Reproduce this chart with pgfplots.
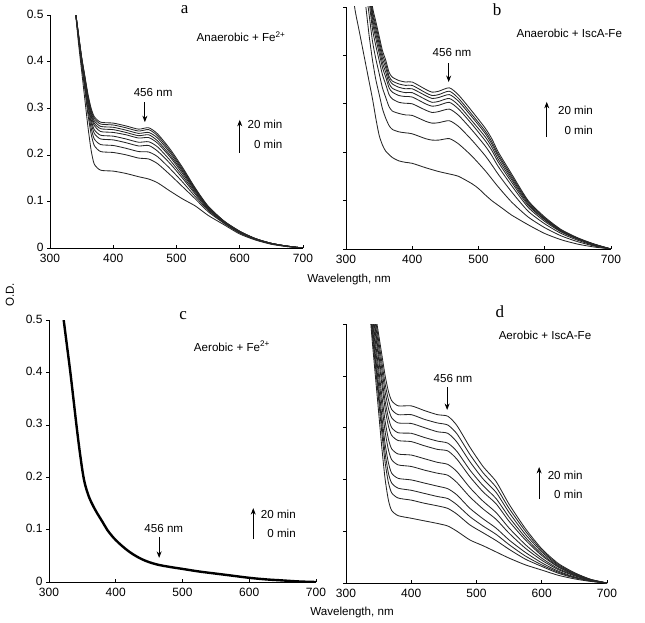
\documentclass[border=0pt]{standalone}
\usepackage{pgfplots}
\pgfplotsset{compat=1.18}
\usepackage{pgfplotstable}
\usepackage{fontspec}
\setmainfont{Liberation Sans}
\newfontfamily\serifl{Liberation Serif}
\usetikzlibrary{arrows.meta}

\newcommand\annot{\fontsize{11.6}{13}\selectfont}
\newcommand\plab{\serifl\fontsize{17}{17}\selectfont}

% Panel a: c1 = 0 min (bottom) ... c10 = 20 min (top)
\pgfplotstableread{
wl c1 c2 c3 c4 c5 c6 c7 c8 c9 c10
340 .51 .51 .51 .51 .51 .51 .51 .51 .51 .51
345 .44 .448 .451 .453 .455 .456 .457 .458 .459 .46
350 .38 .392 .396 .400 .402 .404 .406 .407 .409 .41
355 .32 .340 .347 .353 .357 .361 .363 .366 .368 .37
360 .26 .287 .297 .306 .311 .317 .320 .324 .327 .33
365 .21 .245 .258 .269 .276 .283 .287 .292 .296 .30
370 .18 .220 .234 .246 .254 .263 .268 .273 .278 .282
380 .167 .207 .222 .234 .242 .250 .256 .261 .266 .27
400 .165 .205 .220 .232 .240 .248 .254 .259 .264 .268
420 .160 .200 .214 .226 .234 .243 .248 .253 .258 .262
440 .153 .193 .207 .219 .227 .236 .241 .246 .251 .255
456 .148 .191 .206 .220 .228 .237 .243 .248 .254 .258
470 .140 .181 .196 .208 .217 .225 .230 .236 .241 .245
490 .122 .157 .170 .181 .188 .195 .199 .204 .208 .212
510 .105 .131 .141 .149 .154 .159 .163 .166 .169 .172
530 .090 .105 .110 .115 .118 .121 .123 .125 .126 .128
550 .070 .078 .081 .083 .085 .086 .087 .088 .089 .090
575 .050 .053 .054 .055 .056 .056 .057 .057 .058 .058
600 .030 .032 .033 .034 .034 .035 .035 .035 .036 .036
625 .017 .018 .019 .019 .019 .019 .020 .020 .020 .020
650 .008 .009 .009 .009 .009 .010 .010 .010 .010 .010
675 .003 .003 .004 .004 .004 .004 .004 .004 .004 .004
700 0 0 0 0 0 0 0 0 0 0
}\tabA

% Panel b: c2 ... c9 (c1, 0 min, is below)
\pgfplotstableread{
wl c2 c3 c4 c5 c6 c7 c8 c9
330 .50 .536 .558 .571 .579 .587 .593 .60
335 .44 .483 .510 .525 .535 .544 .552 .56
340 .39 .429 .454 .468 .477 .486 .492 .50
345 .35 .393 .420 .435 .445 .454 .462 .47
350 .32 .363 .390 .405 .415 .424 .432 .44
355 .29 .333 .360 .375 .385 .394 .402 .41
360 .27 .313 .340 .355 .365 .374 .382 .39
365 .255 .294 .319 .333 .342 .351 .357 .365
370 .247 .285 .310 .324 .332 .341 .347 .355
380 .242 .280 .303 .317 .326 .334 .341 .348
390 .24 .277 .301 .315 .323 .331 .338 .345
400 .238 .276 .300 .314 .323 .331 .338 .345
420 .228 .264 .287 .300 .309 .317 .323 .33
430 .225 .260 .282 .295 .303 .311 .317 .324
440 .225 .261 .284 .297 .305 .313 .319 .326
456 .228 .265 .289 .303 .311 .319 .326 .333
470 .217 .253 .276 .289 .297 .305 .311 .318
490 .192 .225 .246 .258 .265 .273 .278 .285
510 .162 .193 .213 .224 .232 .239 .244 .25
520 .145 .174 .193 .204 .211 .217 .222 .228
530 .128 .154 .170 .179 .185 .191 .195 .2
550 .097 .118 .131 .138 .143 .147 .151 .155
575 .066 .078 .086 .090 .093 .096 .098 .1
600 .044 .052 .057 .060 .061 .063 .064 .066
625 .027 .032 .035 .036 .037 .038 .039 .04
650 .015 .018 .020 .021 .021 .022 .022 .023
675 .006 .007 .008 .009 .009 .009 .010 .01
700 0 0 0 0 0 0 0 0
}\tabB

\pgfplotstableread{
wl c1
310 .56
313 .50
320 .45
330 .38
340 .31
345 .27
350 .235
355 .215
360 .202
370 .189
380 .182
390 .179
400 .177
420 .168
440 .160
456 .155
470 .150
490 .135
500 .125
510 .112
520 .100
530 .090
540 .080
550 .070
575 .050
600 .032
625 .019
650 .010
675 .004
700 0
}\tabBlow

% Panel c
\pgfplotstableread{
wl c1
322 .50
327 .45
332 .40
337 .345
342 .29
347 .24
352 .198
357 .173
362 .156
370 .136
380 .115
387 .100
400 .080
420 .058
440 .043
460 .034
480 .029
500 .025
525 .020
550 .016
575 .012
600 .008
625 .005
650 .003
675 .001
700 0
}\tabC

% Panel d: c1 = 0 min ... c11 = 20 min
\pgfplotstableread{
wl c1 c2 c3 c4 c5 c6 c7 c8 c9 c10 c11
335 .55 .558 .562 .567 .573 .578 .584 .588 .592 .596 .60
340 .47 .484 .492 .501 .511 .521 .531 .538 .546 .553 .56
345 .40 .419 .430 .441 .455 .467 .482 .491 .501 .511 .52
350 .33 .354 .367 .381 .399 .414 .432 .443 .456 .468 .48
355 .26 .289 .305 .321 .343 .361 .383 .396 .412 .426 .44
360 .20 .232 .250 .268 .292 .312 .336 .351 .369 .384 .40
365 .16 .194 .212 .232 .257 .278 .303 .319 .337 .354 .37
370 .14 .174 .193 .212 .238 .259 .285 .300 .319 .335 .352
380 .13 .164 .183 .202 .228 .249 .275 .290 .309 .325 .342
400 .125 .160 .179 .199 .225 .247 .273 .289 .308 .325 .342
420 .12 .154 .173 .193 .218 .240 .265 .281 .300 .316 .333
440 .115 .149 .167 .187 .212 .233 .258 .274 .292 .309 .325
456 .11 .144 .163 .182 .208 .229 .255 .270 .289 .305 .322
470 .10 .133 .151 .170 .194 .215 .239 .254 .272 .288 .304
490 .083 .112 .128 .144 .166 .184 .205 .218 .234 .248 .262
510 .072 .097 .110 .124 .143 .158 .176 .188 .201 .213 .225
530 .06 .082 .094 .106 .123 .136 .153 .163 .175 .185 .196
550 .048 .065 .074 .083 .096 .106 .119 .127 .136 .144 .152
575 .035 .046 .052 .059 .067 .074 .083 .088 .094 .100 .105
600 .025 .032 .035 .039 .044 .048 .053 .056 .060 .063 .066
625 .015 .019 .021 .023 .026 .028 .031 .032 .034 .036 .038
650 .008 .010 .011 .012 .014 .015 .016 .017 .018 .019 .02
675 .003 .004 .004 .004 .005 .005 .006 .006 .006 .007 .007
700 0 0 0 0 0 0 0 0 0 0 0
}\tabD

\tikzset{arr/.style={-{Stealth[length=6.5pt,width=5pt]}, line width=0.9pt}}

\pgfplotsset{
  panel/.style={
    scale only axis, anchor=south west,
    xmin=300, xmax=700, ymin=0, ymax=0.5,
    axis lines=left, axis line style={-, line width=0.7pt},
    xtick={300,400,500,600,700}, ytick={0,0.1,0.2,0.3,0.4,0.5},
    xtick align=inside, ytick align=outside,
    major tick length=3pt, tick style={black, line width=0.6pt},
    tick label style={font=\fontsize{12}{14}\selectfont},
    xticklabel style={yshift=-2.5pt},
    yticklabel style={yshift=1pt},
    /pgf/number format/assume math mode=true,
    yticklabel style={/pgf/number format/fixed, /pgf/number format/precision=1},
    clip mode=individual,
  },
  curve/.style={black!85, line width=0.85pt, smooth, tension=0.4, no markers},
}

\begin{document}
\begin{tikzpicture}[x=1pt,y=1pt]
\useasboundingbox (0,0) rectangle (645,622);

% ---- panel a
\begin{axis}[panel, at={(50pt,374pt)}, width=253pt, height=233pt]
\pgfplotsinvokeforeach{1,...,10}{\addplot[curve] table[x=wl,y=c#1]{\tabA};}
\node[font=\plab] at (axis cs:513,0.511) {a};
\node[font=\annot] at (axis cs:602,0.453) {Anaerobic + Fe\textsuperscript{2+}};
\node[font=\annot] at (axis cs:463,0.333) {456 nm};
\draw[arr] (axis cs:450,0.313) -- (axis cs:450,0.270);
\draw[arr] (axis cs:600,0.204) -- (axis cs:600,0.275);
\node[font=\annot, anchor=east] at (axis cs:673,0.266) {20 min};
\node[font=\annot, anchor=east] at (axis cs:673,0.223) {0 min};
\end{axis}

% ---- panel b
\begin{axis}[panel, at={(346pt,373pt)}, width=265pt, height=242pt, yticklabels={}]
\addplot[curve] table[x=wl,y=c1]{\tabBlow};
\pgfplotsinvokeforeach{2,...,9}{\addplot[curve] table[x=wl,y=c#1]{\tabB};}
\node[font=\plab] at (axis cs:528,0.494) {b};
\node[font=\annot] at (axis cs:637,0.446) {Anaerobic + IscA-Fe};
\node[font=\annot] at (axis cs:460,0.407) {456 nm};
\draw[arr] (axis cs:455,0.384) -- (axis cs:455,0.345);
\draw[arr] (axis cs:603,0.231) -- (axis cs:603,0.304);
\node[font=\annot, anchor=east] at (axis cs:678,0.287) {20 min};
\node[font=\annot, anchor=east] at (axis cs:678,0.246) {0 min};
\end{axis}

% ---- panel c
\begin{axis}[panel, at={(49pt,40pt)}, width=267pt, height=262pt]
\addplot[black, line width=2.4pt, smooth, tension=0.6, no markers] table[x=wl,y=c1]{\tabC};
\node[font=\plab] at (axis cs:501,0.508) {c};
\node[font=\annot] at (axis cs:574,0.450) {Aerobic + Fe\textsuperscript{2+}};
\node[font=\annot] at (axis cs:472,0.103) {456 nm};
\draw[arr] (axis cs:465,0.086) -- (axis cs:465,0.046);
\draw[arr] (axis cs:606,0.082) -- (axis cs:606,0.141);
\node[font=\annot, anchor=east] at (axis cs:675,0.130) {20 min};
\node[font=\annot, anchor=east] at (axis cs:675,0.092) {0 min};
\end{axis}

% ---- panel d
\begin{axis}[panel, at={(346pt,39pt)}, width=261pt, height=259pt, yticklabels={}]
\pgfplotsinvokeforeach{1,...,11}{\addplot[curve] table[x=wl,y=c#1]{\tabD};}
\node[font=\plab] at (axis cs:536,0.523) {d};
\node[font=\annot] at (axis cs:605,0.479) {Aerobic + IscA-Fe};
\node[font=\annot] at (axis cs:464,0.394) {456 nm};
\draw[arr] (axis cs:455,0.378) -- (axis cs:455,0.334);
\draw[arr] (axis cs:596,0.162) -- (axis cs:596,0.224);
\node[font=\annot, anchor=east] at (axis cs:668,0.208) {20 min};
\node[font=\annot, anchor=east] at (axis cs:668,0.172) {0 min};
\end{axis}

\node[font=\annot] at (349,342) {Wavelength, nm};
\node[font=\annot] at (352,10) {Wavelength, nm};
\node[font=\annot, rotate=90] at (10,327) {O.D.};
\end{tikzpicture}
\end{document}
